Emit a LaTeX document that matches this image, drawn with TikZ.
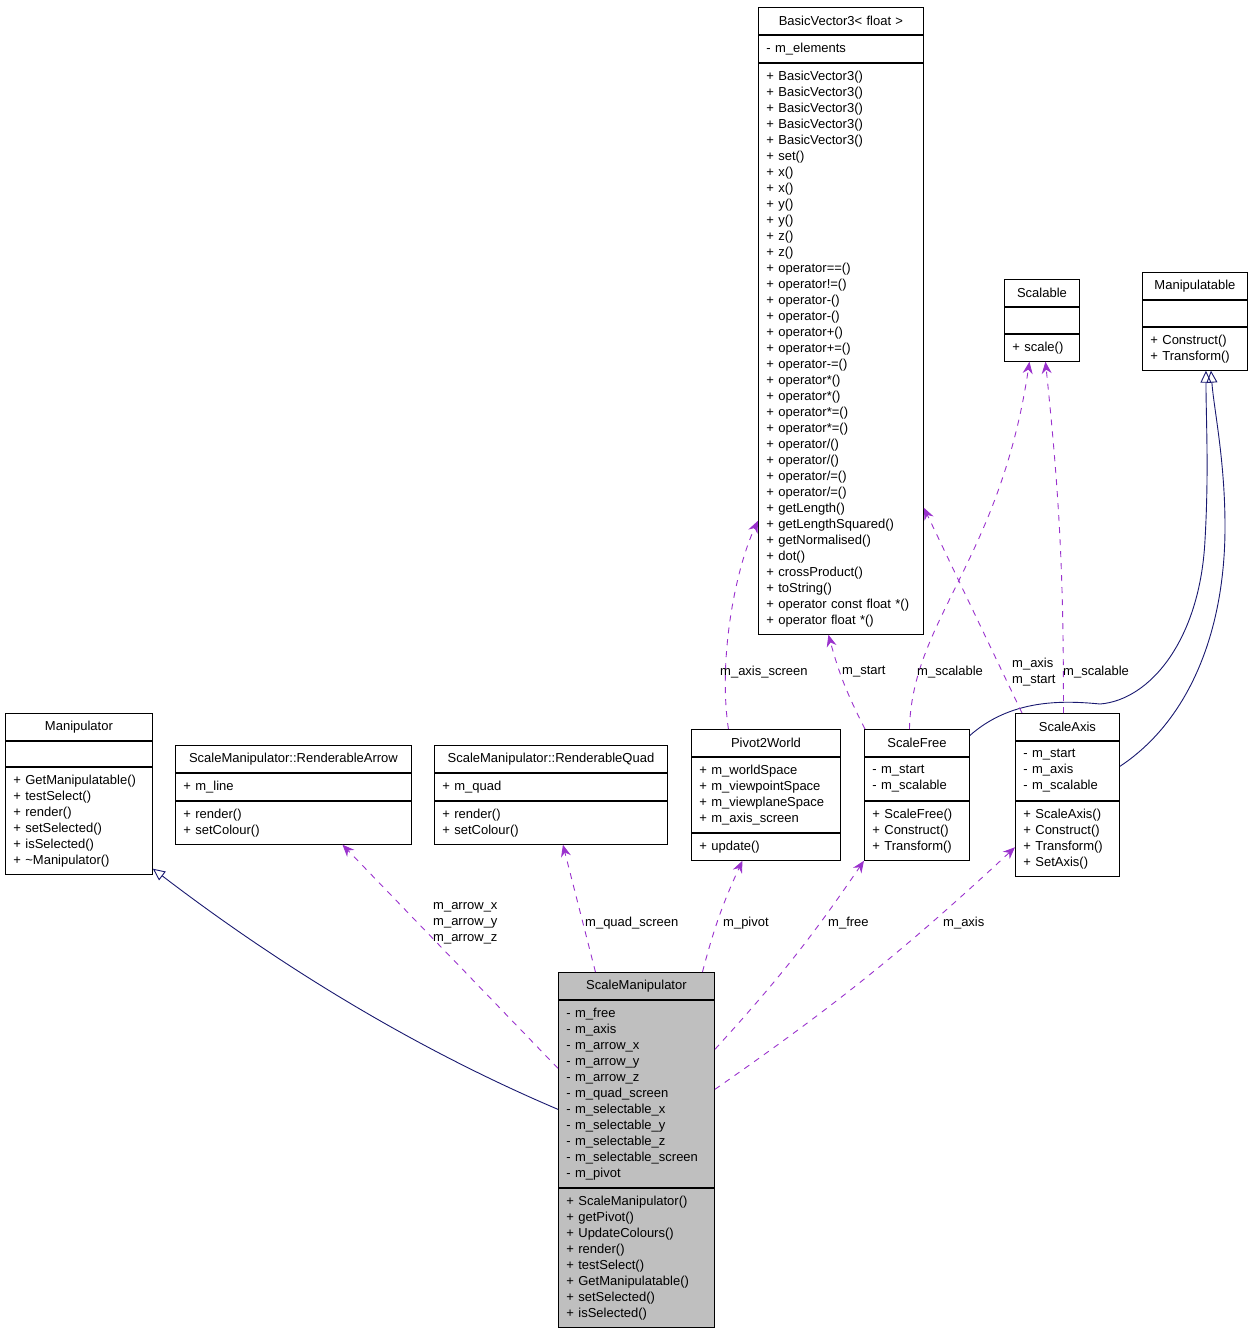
\documentclass[tikz,border=0pt]{standalone}
\usepackage{fontspec}
\setmainfont{Liberation Sans}
\usetikzlibrary{arrows.meta, positioning}
\definecolor{edgeblue}{HTML}{191970}
\definecolor{edgepurple}{HTML}{9A32CD}
\definecolor{selgray}{HTML}{BFBFBF}

\begin{document}
\begin{tikzpicture}[
  x=1pt, y=-1pt,
  cls/.style={draw, fill=white, line width=0.9pt, inner xsep=8pt,
              inner ysep=0pt, font=\fontsize{13}{16}\selectfont},
  hd/.style={cls, text width=#1, align=center, minimum height=27pt,
             anchor=north west},
  sec/.style={cls, text width=#1, align=left},
  inh/.style={draw=edgeblue, line width=0.9pt,
              -{Triangle[open, length=12pt, width=11pt]}},
  agg/.style={draw=edgepurple, line width=0.9pt, dash pattern=on 6pt off 6pt,
              -{Stealth[length=12pt, width=10pt, inset=4pt]}},
  lbl/.style={font=\fontsize{13}{16}\selectfont, align=left,
              anchor=west, inner sep=0pt}
]
\useasboundingbox (0,0) rectangle (1252,1331);

% classes
\node[hd=131pt] (mp) at (5,713) {Manipulator};
\node[sec=131pt, minimum height=25pt, below=0pt of mp] (mp-a) {};
\node[sec=131pt, minimum height=107pt, below=0pt of mp-a] (mp-m)
  {+ GetManipulatable()\\+ testSelect()\\+ render()\\
   + setSelected()\\+ isSelected()\\+ \textasciitilde Manipulator()};

\node[hd=220pt] (arw) at (175,745) {ScaleManipulator::RenderableArrow};
\node[sec=220pt, minimum height=27pt, below=0pt of arw] (arw-a) {+ m\_line};
\node[sec=220pt, minimum height=43pt, below=0pt of arw-a] (arw-m)
  {+ render()\\+ setColour()};

\node[hd=217pt] (quad) at (434,745) {ScaleManipulator::RenderableQuad};
\node[sec=217pt, minimum height=27pt, below=0pt of quad] (quad-a) {+ m\_quad};
\node[sec=217pt, minimum height=43pt, below=0pt of quad-a] (quad-m)
  {+ render()\\+ setColour()};

\node[hd=133pt] (pvt) at (691,729) {Pivot2World};
\node[sec=133pt, minimum height=75pt, below=0pt of pvt] (pvt-a)
  {+ m\_worldSpace\\+ m\_viewpointSpace\\+ m\_viewplaneSpace\\+ m\_axis\_screen};
\node[sec=133pt, minimum height=27pt, below=0pt of pvt-a] (pvt-m) {+ update()};

\node[hd=89pt] (sfree) at (864,729) {ScaleFree};
\node[sec=89pt, minimum height=43pt, below=0pt of sfree] (sfree-a)
  {- m\_start\\- m\_scalable};
\node[sec=89pt, minimum height=59pt, below=0pt of sfree-a] (sfree-m)
  {+ ScaleFree()\\+ Construct()\\+ Transform()};

\node[hd=88pt] (saxis) at (1015,713) {ScaleAxis};
\node[sec=88pt, minimum height=59pt, below=0pt of saxis] (saxis-a)
  {- m\_start\\- m\_axis\\- m\_scalable};
\node[sec=88pt, minimum height=75pt, below=0pt of saxis-a] (saxis-m)
  {+ ScaleAxis()\\+ Construct()\\+ Transform()\\+ SetAxis()};

\node[hd=149pt] (bv) at (758,7) {BasicVector3< float >};
\node[sec=149pt, minimum height=27pt, below=0pt of bv] (bv-a) {- m\_elements};
\node[sec=149pt, minimum height=571pt, below=0pt of bv-a] (bv-m)
  {+ BasicVector3()\\+ BasicVector3()\\+ BasicVector3()\\+ BasicVector3()\\
   + BasicVector3()\\+ set()\\+ x()\\+ x()\\+ y()\\+ y()\\+ z()\\+ z()\\
   + operator==()\\+ operator!=()\\+ operator-()\\+ operator-()\\
   + operator+()\\+ operator+=()\\+ operator-=()\\+ operator*()\\
   + operator*()\\+ operator*=()\\+ operator*=()\\+ operator/()\\
   + operator/()\\+ operator/=()\\+ operator/=()\\+ getLength()\\
   + getLengthSquared()\\+ getNormalised()\\+ dot()\\+ crossProduct()\\
   + toString()\\+ operator const float *()\\+ operator float *()};

\node[hd=59pt] (scl) at (1004,279) {Scalable};
\node[sec=59pt, minimum height=26pt, below=0pt of scl] (scl-a) {};
\node[sec=59pt, minimum height=27pt, below=0pt of scl-a] (scl-m) {+ scale()};

\node[hd=89pt] (mbl) at (1142,272) {Manipulatable};
\node[sec=89pt, minimum height=26pt, below=0pt of mbl] (mbl-a) {};
\node[sec=89pt, minimum height=43pt, below=0pt of mbl-a] (mbl-m)
  {+ Construct()\\+ Transform()};

\node[hd=140pt, fill=selgray] (sm) at (558,972) {ScaleManipulator};
\node[sec=140pt, fill=selgray, minimum height=187pt, below=0pt of sm] (sm-a)
  {- m\_free\\- m\_axis\\- m\_arrow\_x\\- m\_arrow\_y\\- m\_arrow\_z\\
   - m\_quad\_screen\\- m\_selectable\_x\\- m\_selectable\_y\\
   - m\_selectable\_z\\- m\_selectable\_screen\\- m\_pivot};
\node[sec=140pt, fill=selgray, minimum height=139pt, below=0pt of sm-a] (sm-m)
  {+ ScaleManipulator()\\+ getPivot()\\+ UpdateColours()\\+ render()\\
   + testSelect()\\+ GetManipulatable()\\+ setSelected()\\+ isSelected()};

% inheritance
\draw[inh] ([yshift=-15.5pt]sm-a.west) .. controls (423,1052) and (288,972)
  .. ([yshift=6pt]mp-m.south east);
\draw[inh] ([yshift=7.5pt]sfree.east) .. controls (1010,700) and (1060,700)
  .. (1100,704) .. controls (1150,700) and (1200,640) .. (1205,540)
  .. controls (1209,470) and (1206,420) .. ([xshift=11pt]mbl-m.south);
\draw[inh] ([yshift=4.5pt]saxis-a.east) .. controls (1190,720) and (1225,630)
  .. (1225,527) .. controls (1225,460) and (1214,410)
  .. ([xshift=16pt]mbl-m.south);

% members
\draw[agg] ([yshift=25.5pt]sm-a.west) -- ([xshift=49pt]arw-m.south);
\draw[agg] ([xshift=-41pt]sm.north) -- ([xshift=12pt]quad-m.south);
\draw[agg] ([xshift=66pt]sm.north) to[bend left=5] ([xshift=-23.5pt]pvt-m.south);
\draw[agg] ([yshift=44.5pt]sm-a.east) to[bend right=4] (sfree-m.south west);
\draw[agg] ([yshift=4.5pt]sm-a.east) to[bend right=4] ([yshift=-8.5pt]saxis-m.west);
\draw[agg] ([xshift=-37.5pt]pvt.north) .. controls (718,660) and (735,570)
  .. ([yshift=-172pt]bv-m.west);
\draw[agg] ([xshift=1pt]sfree.north west) to[bend left=6] ([xshift=-12.5pt]bv-m.south);
\draw[agg] ([xshift=-7.5pt]sfree.north) .. controls (912,620) and (1000,560)
  .. ([xshift=-12.5pt]scl-m.south);
\draw[agg] ([xshift=7pt]saxis.north west) -- ([yshift=-159pt]bv-m.east);
\draw[agg] ([xshift=-4pt]saxis.north) to[bend right=3] ([xshift=3.5pt]scl-m.south);

% labels
\node[lbl] (l-arw) at (433,923) {m\_arrow\_x\\m\_arrow\_y\\m\_arrow\_z};
\node[lbl] (l-quad) at (585,923) {m\_quad\_screen};
\node[lbl] (l-pvt) at (723,923) {m\_pivot};
\node[lbl] (l-free) at (828,923) {m\_free};
\node[lbl] (l-axis) at (943,923) {m\_axis};
\node[lbl] (l-scr) at (720,672) {m\_axis\_screen};
\node[lbl] (l-start) at (842,672) {m\_start};
\node[lbl] (l-scl1) at (917,672) {m\_scalable};
\node[lbl] (l-as) at (1012,672) {m\_axis\\m\_start};
\node[lbl] (l-scl2) at (1063,672) {m\_scalable};

\end{tikzpicture}
\end{document}
